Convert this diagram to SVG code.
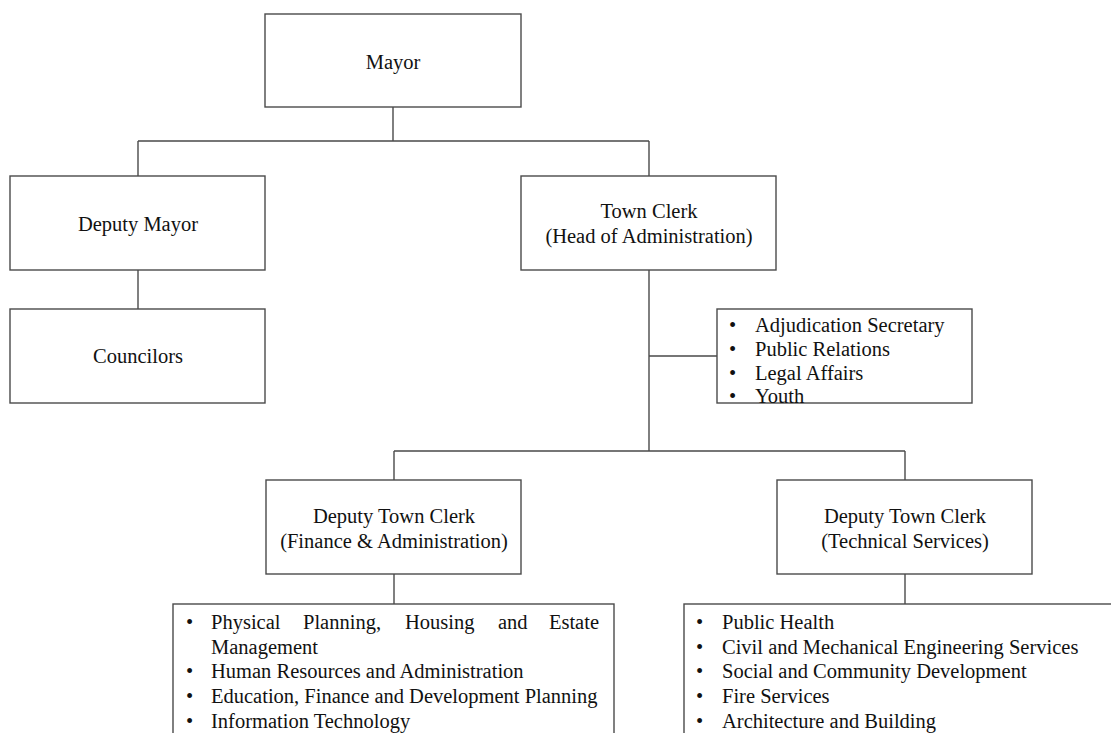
<svg xmlns="http://www.w3.org/2000/svg" width="1111" height="733" viewBox="0 0 1111 733">
  <style>
    .box { fill: #ffffff; stroke: #4a4a4a; stroke-width: 1.4; }
    .wire { fill: none; stroke: #4a4a4a; stroke-width: 1.4; }
    text { font-family: "Liberation Serif", "Times New Roman", serif; font-size: 20.5px; fill: #111111; }
    .c { text-anchor: middle; }
  </style>
  <rect x="0" y="0" width="1111" height="733" fill="#ffffff"/>

  <!-- connectors -->
  <g id="connectors" class="wire">
    <path d="M393 107 V141 M138 141 H649 M138 141 V176 M649 141 V176"/>
    <path d="M138 270 V309"/>
    <path d="M649 270 V451 M649 356 H717"/>
    <path d="M394 451 H905 M394 451 V480 M905 451 V480"/>
    <path d="M394 574 V604"/>
    <path d="M905 574 V604"/>
  </g>

  <g id="mayor">
    <rect class="box" x="265" y="14" width="256" height="93"/>
    <text class="c" x="393" y="69">Mayor</text>
  </g>

  <g id="deputy-mayor">
    <rect class="box" x="10" y="176" width="255" height="94"/>
    <text class="c" x="138" y="231">Deputy Mayor</text>
  </g>

  <g id="councilors">
    <rect class="box" x="10" y="309" width="255" height="94"/>
    <text class="c" x="138" y="363">Councilors</text>
  </g>

  <g id="town-clerk">
    <rect class="box" x="521" y="176" width="255" height="94"/>
    <text class="c" x="649" y="218">Town Clerk</text>
    <text class="c" x="649" y="243">(Head of Administration)</text>
  </g>

  <g id="clerk-units">
    <rect class="box" x="717" y="309" width="255" height="94"/>
    <text x="729" y="332">•</text><text x="755" y="332">Adjudication Secretary</text>
    <text x="729" y="356">•</text><text x="755" y="356">Public Relations</text>
    <text x="729" y="380">•</text><text x="755" y="380">Legal Affairs</text>
    <text x="729" y="403">•</text><text x="755" y="403">Youth</text>
  </g>

  <g id="deputy-finance">
    <rect class="box" x="266" y="480" width="255" height="94"/>
    <text class="c" x="394" y="523">Deputy Town Clerk</text>
    <text class="c" x="394" y="548">(Finance &amp; Administration)</text>
  </g>

  <g id="deputy-technical">
    <rect class="box" x="777" y="480" width="255" height="94"/>
    <text class="c" x="905" y="523">Deputy Town Clerk</text>
    <text class="c" x="905" y="548">(Technical Services)</text>
  </g>

  <g id="finance-units">
    <rect class="box" x="173" y="604" width="441" height="140"/>
    <text x="186" y="629">•</text>
    <text y="629"><tspan x="211">Physical</tspan><tspan x="303">Planning,</tspan><tspan x="405">Housing</tspan><tspan x="498">and</tspan></text>
    <text x="599" y="629" text-anchor="end">Estate</text>
    <text x="211" y="654">Management</text>
    <text x="186" y="678">•</text><text x="211" y="678">Human Resources and Administration</text>
    <text x="186" y="703">•</text><text x="211" y="703">Education, Finance and Development Planning</text>
    <text x="186" y="728">•</text><text x="211" y="728">Information Technology</text>
  </g>

  <g id="technical-units">
    <rect class="box" x="684" y="604" width="440" height="140"/>
    <text x="696" y="629">•</text><text x="722" y="629">Public Health</text>
    <text x="696" y="654">•</text><text x="722" y="654">Civil and Mechanical Engineering Services</text>
    <text x="696" y="678">•</text><text x="722" y="678">Social and Community Development</text>
    <text x="696" y="703">•</text><text x="722" y="703">Fire Services</text>
    <text x="696" y="728">•</text><text x="722" y="728">Architecture and Building</text>
  </g>
</svg>
